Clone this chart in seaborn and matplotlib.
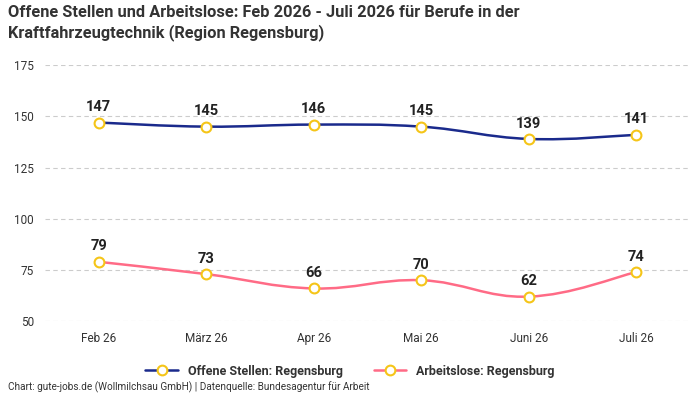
import matplotlib
matplotlib.use("Agg")
import matplotlib.pyplot as plt
from matplotlib.path import Path
from matplotlib.patches import PathPatch
from matplotlib.lines import Line2D
import numpy as np
import pandas as pd
import seaborn as sns

months = ["Feb 26", "März 26", "Apr 26", "Mai 26", "Juni 26", "Juli 26"]
offene = [147, 145, 146, 145, 139, 141]
arbeitslose = [79, 73, 66, 70, 62, 74]
series_names = ["Offene Stellen: Regensburg", "Arbeitslose: Regensburg"]
series_colors = ["#1a2a8c", "#ff6b86"]

sns.set_style("white")
plt.rcParams["font.family"] = ["Roboto", "DejaVu Sans"]

df = pd.DataFrame({"month": months * 2,
                   "value": offene + arbeitslose,
                   "series": [series_names[0]] * 6 + [series_names[1]] * 6})

fig = plt.figure(figsize=(7, 4), dpi=100)
ax = fig.add_axes([0.064, 0.197, 0.922, 0.64])


def smooth_path(xs, ys, t=0.2):
    # cardinal spline drawn as cubic bezier segments
    verts = [(xs[0], ys[0])]
    codes = [Path.MOVETO]
    n = len(xs)
    for i in range(n - 1):
        p0 = (xs[max(i - 1, 0)], ys[max(i - 1, 0)])
        p1 = (xs[i], ys[i])
        p2 = (xs[i + 1], ys[i + 1])
        p3 = (xs[min(i + 2, n - 1)], ys[min(i + 2, n - 1)])
        c1 = (p1[0] + (p2[0] - p0[0]) * t, p1[1] + (p2[1] - p0[1]) * t)
        c2 = (p2[0] - (p3[0] - p1[0]) * t, p2[1] - (p3[1] - p1[1]) * t)
        verts += [c1, c2, p2]
        codes += [Path.CURVE4] * 3
    return Path(verts, codes)


for name, color in zip(series_names, series_colors):
    sub = df[df.series == name]
    xs = np.arange(len(sub))
    ys = sub["value"].to_numpy()
    ax.add_patch(PathPatch(smooth_path(xs, ys), fill=False, edgecolor=color, lw=1.8, zorder=2))
    sns.scatterplot(x=xs, y=ys, ax=ax, s=50, color="white", edgecolor="#f5c518",
                    linewidth=1.5, zorder=3, legend=False)
    for x, y in zip(xs, ys):
        ax.annotate(str(y), (x, y), xytext=(0, 6), textcoords="offset points",
                    ha="center", va="bottom", fontsize=10.5, fontweight="bold", color="#222222")

ax.set_xlim(-0.5, 5.5)
ax.set_ylim(50, 175)
ax.set_yticks([50, 75, 100, 125, 150, 175])
ax.set_xticks(range(len(months)))
ax.set_xticklabels(months)
ax.tick_params(axis="both", labelsize=8.5, colors="#333333", length=0, pad=8)
ax.grid(axis="y", color="#cccccc", linestyle=(0, (4, 3)), lw=0.8)
for s in ax.spines.values():
    s.set_visible(False)
ax.set_xlabel("")
ax.set_ylabel("")

fig.text(0.012, 0.988, "Offene Stellen und Arbeitslose: Feb 2026 - Juli 2026 für Berufe in der\n"
         "Kraftfahrzeugtechnik (Region Regensburg)",
         ha="left", va="top", fontsize=11.8, fontweight="bold", color="#333333", linespacing=1.3)

handles = [Line2D([0], [0], color=c, lw=1.8, marker="o", markersize=7,
                  markerfacecolor="white", markeredgecolor="#f5c518", markeredgewidth=1.5)
           for c in series_colors]
leg = fig.legend(handles, series_names, loc="center", bbox_to_anchor=(0.5, 0.072),
                 ncol=2, frameon=False, fontsize=9, handlelength=2.6, columnspacing=2.5)
for t in leg.get_texts():
    t.set_fontweight("bold")
    t.set_color("#333333")

fig.text(0.012, 0.018, "Chart: gute-jobs.de (Wollmilchsau GmbH) | Datenquelle: Bundesagentur für Arbeit",
         ha="left", va="bottom", fontsize=7.2, color="#333333")

fig.savefig("out.png", dpi=100)
